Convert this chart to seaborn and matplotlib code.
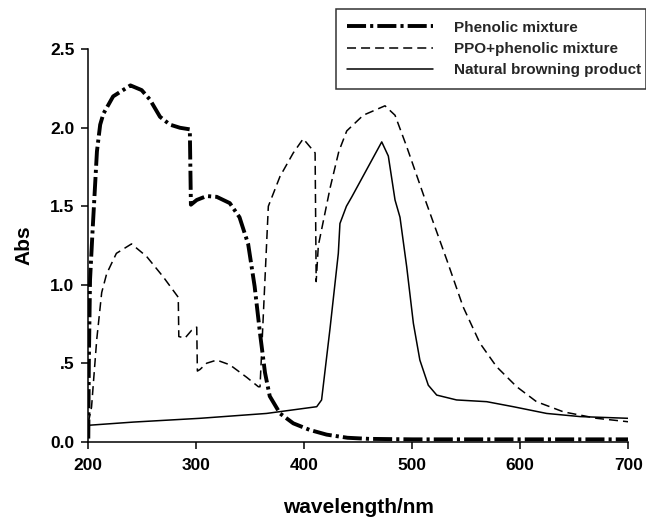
import matplotlib
matplotlib.use("Agg")
import matplotlib.pyplot as plt
import seaborn as sns
import pandas as pd

# ---- data ----
phen_x = [200, 200.5, 201.6, 204, 206, 208, 211, 214, 223, 239, 249.4, 257, 266.4,
          275.6, 284.9, 294, 295, 300.4, 309.6, 318.9, 331, 340, 348, 354, 359,
          363.6, 368, 377.5, 389.8, 405, 420.7, 440, 460, 500, 600, 700]
phen_y = [0.02, 0.5, 1.03, 1.35, 1.6, 1.85, 2.02, 2.09, 2.2, 2.27, 2.24, 2.18, 2.07,
          2.02, 2.0, 1.99, 1.51, 1.54, 1.565, 1.56, 1.52, 1.43, 1.26, 0.99, 0.69,
          0.44, 0.29, 0.18, 0.117, 0.075, 0.045, 0.025, 0.018, 0.015, 0.015, 0.015]

ppo_x = [200, 203, 205, 207.8, 212.4, 217, 226, 240, 254, 269.4, 283.3, 283.8,
         289.5, 295.7, 300.4, 301, 303.4, 309.6, 318.9, 331, 346.7, 357.5, 359,
         366.7, 377.5, 389.8, 399, 410, 411, 413, 424, 432, 439.3, 454.6, 474.7,
         484, 494.8, 512, 532, 547, 562.7, 578, 596.7, 615, 640, 670.7, 700]
ppo_y = [0.12, 0.22, 0.4, 0.65, 0.95, 1.07, 1.2, 1.26, 1.18, 1.05, 0.92, 0.67,
         0.66, 0.71, 0.73, 0.45, 0.46, 0.50, 0.52, 0.49, 0.41, 0.35, 0.35,
         1.50, 1.69, 1.84, 1.93, 1.84, 1.02, 1.25, 1.62, 1.85, 1.98, 2.08, 2.14,
         2.08, 1.88, 1.54, 1.157, 0.86, 0.627, 0.478, 0.35, 0.255, 0.19, 0.149, 0.127]

nat_x = [200, 201, 241.7, 303.4, 365, 411.5, 416, 423.8, 431.5, 433, 439, 444,
         471.7, 477.8, 484, 488.6, 494.8, 501, 507, 514.8, 522.6, 541, 568.9,
         593.5, 624.4, 655.3, 700]
nat_y = [0.03, 0.105, 0.125, 0.149, 0.18, 0.223, 0.266, 0.72, 1.2, 1.39, 1.50, 1.56,
         1.91, 1.82, 1.54, 1.43, 1.115, 0.754, 0.52, 0.36, 0.297, 0.266, 0.255,
         0.223, 0.18, 0.16, 0.149]

labels = ["Phenolic mixture", "PPO+phenolic mixture", "Natural browning product"]
xticks = [200, 300, 400, 500, 600, 700]
yticks = [0.0, 0.5, 1.0, 1.5, 2.0, 2.5]
ytick_labels = ["0.0", ".5", "1.0", "1.5", "2.0", "2.5"]

# ---- plot ----
sns.set_theme(style="white")
plt.rcParams['font.family'] = ['Liberation Sans', 'DejaVu Sans']

fig = plt.figure(figsize=(6.46, 5.17), dpi=100)
ax = fig.add_axes([88.3 / 646, 1 - 441.7 / 517, (628.3 - 88.3) / 646, (441.7 - 49.3) / 517])

series = [
    (phen_x, phen_y, labels[0], dict(lw=2.8, dashes=(4.9, 1.05, 0.8, 1.05))),
    (ppo_x, ppo_y, labels[1], dict(lw=1.1, dashes=(5.9, 3.3))),
    (nat_x, nat_y, labels[2], dict(lw=1.1)),
]
for xs, ys, lab, st in series:
    df = pd.DataFrame({"x": xs, "y": ys})
    sns.lineplot(data=df, x="x", y="y", estimator=None, sort=False,
                 ax=ax, label=lab, color="black", linewidth=st["lw"])
    ln = ax.get_lines()[-1]
    if "dashes" in st:
        ln.set_dashes(st["dashes"])

ax.set_xlim(200, 700)
ax.set_ylim(0, 2.5)
ax.set_xticks(xticks)
ax.set_xticklabels([str(t) for t in xticks])
ax.set_yticks(yticks)
ax.set_yticklabels(ytick_labels)
for s in ["top", "right"]:
    ax.spines[s].set_visible(False)
for s in ["left", "bottom"]:
    ax.spines[s].set_color("black")
    ax.spines[s].set_linewidth(1.1)
ax.tick_params(axis="both", which="major", direction="out", length=5, width=1.1,
               color="black", labelsize=12.5, bottom=True, left=True)
ax.tick_params(axis="x", pad=6.5)
ax.tick_params(axis="y", pad=5)
for t in ax.get_xticklabels() + ax.get_yticklabels():
    t.set_fontweight("bold")
    t.set_color("black")

ax.set_xlabel("wavelength/nm", fontsize=15, fontweight="bold", color="black", labelpad=18)
ax.set_ylabel("Abs", fontsize=15, fontweight="bold", color="black", labelpad=12)

handles, labs = ax.get_legend_handles_labels()
ax.get_legend().remove()
leg = fig.legend(handles, labs, loc="upper left",
                 bbox_to_anchor=(335.7 / 646, 1 - 9.3 / 517 - 0.01, (646 - 335.7) / 646, 0.01),
                 mode="expand", frameon=True, fancybox=False, fontsize=11,
                 handlelength=5.6, handletextpad=1.4, borderpad=0.75,
                 labelspacing=0.47, borderaxespad=0)
leg.get_frame().set_edgecolor("black")
leg.get_frame().set_linewidth(1.1)
for t in leg.get_texts():
    t.set_fontweight("bold")

fig.savefig("out.png", dpi=100, facecolor="white")
